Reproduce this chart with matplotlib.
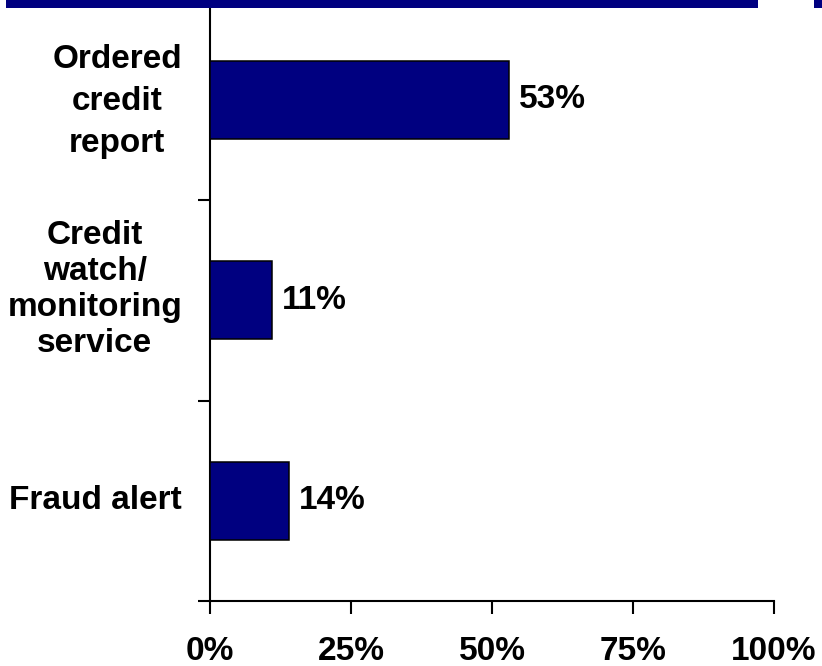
import matplotlib
matplotlib.use("Agg")
import matplotlib.pyplot as plt
from matplotlib.patches import Rectangle
from matplotlib.ticker import FixedLocator, FuncFormatter
from matplotlib.transforms import ScaledTranslation

# Actions taken (listed top to bottom) and share of respondents (%)
categories = ["Ordered\ncredit\nreport", "Credit\nwatch/\nmonitoring\nservice", "Fraud alert"]
values = [53, 11, 14]
x_ticks = [0, 25, 50, 75, 100]

NAVY = "#000080"
FONT = "Liberation Sans"
FS = 24

fig = plt.figure(figsize=(8.22, 6.66), dpi=100)
W, H = 822, 666
ax = fig.add_axes([210 / W, 65 / H, 564 / W, 601.5 / H])

ypos = list(range(len(categories)))
ax.barh(ypos, values, height=0.39, color=NAVY, edgecolor="black", linewidth=1.1, zorder=3)

for y, v in zip(ypos, values):
    ax.annotate(f"{v}%", xy=(v, y), xytext=(7, 0), textcoords="offset points",
                ha="left", va="center", fontsize=FS, fontweight="bold", family=FONT)

ax.set_xlim(0, 100)
ax.set_ylim(len(categories) - 0.5, -0.5)

ax.xaxis.set_major_locator(FixedLocator(x_ticks))
ax.xaxis.set_major_formatter(FuncFormatter(lambda v, p: f"{v:.0f}%"))
ax.tick_params(axis="x", direction="out", length=9, width=1.5, pad=16,
               labelsize=FS, color="black")

ax.set_yticks(ypos)
ax.set_yticklabels(categories)
ax.yaxis.set_minor_locator(FixedLocator([0.5, 1.5, 2.5]))
ax.tick_params(axis="y", which="major", length=0, pad=20, labelsize=FS)
ax.tick_params(axis="y", which="minor", direction="out", length=9, width=1.5)

# per-label line spacing and small vertical nudges (points)
spacings = [1.45, 1.2, 1.1]
nudges = [5, 12, 3]
for lab, ls, dy in zip(ax.get_yticklabels(), spacings, nudges):
    lab.set_fontweight("bold")
    lab.set_family(FONT)
    lab.set_multialignment("center")
    lab.set_linespacing(ls)
    lab.set_transform(lab.get_transform() + ScaledTranslation(0, dy / 72, fig.dpi_scale_trans))
for lab in ax.get_xticklabels():
    lab.set_fontweight("bold")
    lab.set_family(FONT)

for side in ("top", "right"):
    ax.spines[side].set_visible(False)
for side in ("left", "bottom"):
    ax.spines[side].set_linewidth(1.5)
    ax.spines[side].set_color("black")

# Title band strips along the top edge
fig.patches.append(Rectangle((6 / W, 1 - 8 / H), 752 / W, 8 / H, transform=fig.transFigure,
                             facecolor=NAVY, edgecolor="none", zorder=5))
fig.patches.append(Rectangle((814 / W, 1 - 8 / H), 8 / W, 8 / H, transform=fig.transFigure,
                             facecolor=NAVY, edgecolor="none", zorder=5))

fig.savefig("out.png", dpi=100)
